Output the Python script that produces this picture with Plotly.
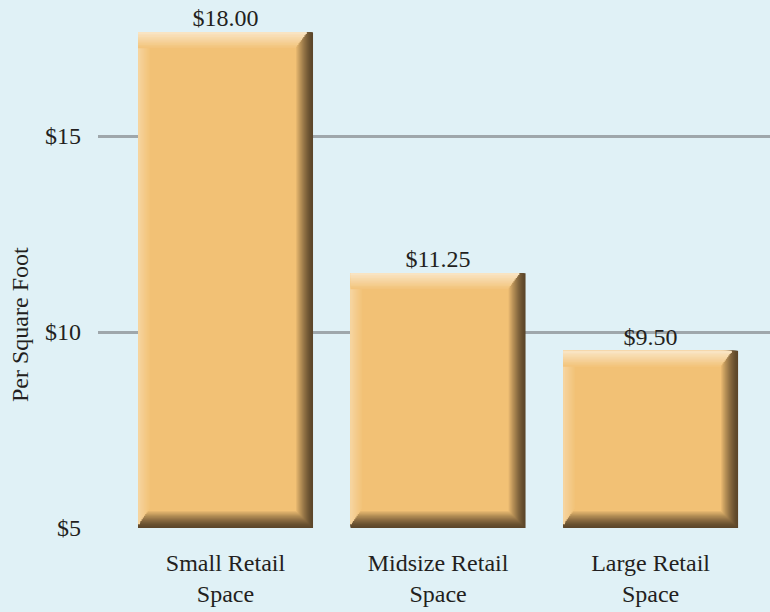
import plotly.graph_objects as go

categories = ["Small Retail<br>Space", "Midsize Retail<br>Space", "Large Retail<br>Space"]
heights = [17.65, 11.5, 9.52]
value_labels = ["$18.00", "$11.25", "$9.50"]
tick_vals = [5, 10, 15]
tick_text = ["$5", "$10", "$15"]

BG = "#e0f1f6"
MAIN = (242, 193, 117)
DARK = (92, 70, 42)
LIGHT = (249, 228, 194)
LEFT = (246, 212, 158)
TXT = "#231f20"
FONT = "Liberation Serif"

W = 0.8235
PX = 1 / 212.5
PY = 1 / 39.2
BASE = 5


def rgb(c):
    return "rgb(%d,%d,%d)" % tuple(int(round(v)) for v in c)


def lerp(a, b, f):
    return tuple(a[i] + (b[i] - a[i]) * f for i in range(3))


fig = go.Figure()


def add_bar(bases, lengths, width, offset, color):
    fig.add_trace(go.Bar(
        x=categories, y=lengths, base=bases, width=width, offset=offset,
        marker=dict(color=color, line=dict(width=0)), hoverinfo="skip",
        showlegend=False))


# dark shadow bevel (right and bottom) fading into main color
n = 16
for i in range(n + 1):
    f = i / n
    r = 17 * f * PX
    b = 17 * f * PY
    col = lerp(DARK, MAIN, f ** 1.4)
    add_bar([BASE + b] * 3, [h - BASE - b for h in heights], W - r, -W / 2, rgb(col))

# left light strip (soft gradient), starting above the bottom shadow
m = 10
for j in range(m):
    f = j / m
    wdt = 12 * (1 - f) * PX
    col = lerp(MAIN, LEFT, (j + 1) / m)
    b = 17 * PY * (1 - f) + 2 * PY
    add_bar([BASE + b] * 3, [h - BASE - b for h in heights], wdt, -W / 2, rgb(col))

# top light strip
k = 10
for j in range(k):
    f = j / k
    t = 16 * (1 - f) * PY
    col = lerp(MAIN, LIGHT, (j + 1) / k)
    add_bar([h - t for h in heights], [t] * 3, W - 12 * (1 - f) * PX - 5 * PX, -W / 2, rgb(col))

# value labels
fig.add_trace(go.Scatter(
    x=categories, y=heights, mode="text", text=value_labels,
    textposition="top center", textfont=dict(family=FONT, size=24, color=TXT),
    hoverinfo="skip", showlegend=False, cliponaxis=False))

fig.update_layout(
    width=770, height=612,
    margin=dict(l=98, r=0, t=0, b=84),
    paper_bgcolor=BG, plot_bgcolor=BG,
    barmode="overlay",
    font=dict(family=FONT, size=24, color=TXT),
    xaxis=dict(range=[-0.6, 2.562], showgrid=False, zeroline=False, showline=False,
               ticks="", ticklabelstandoff=18, tickfont=dict(size=24, color=TXT)),
    yaxis=dict(range=[5, 18.47], tickvals=tick_vals, ticktext=tick_text,
               showgrid=True, gridcolor="#9fa7ab", gridwidth=2.5, zeroline=False,
               showline=False, ticks="", ticklabelstandoff=16,
               tickfont=dict(size=24, color=TXT)),
    annotations=[dict(text="Per Square Foot", textangle=-90,
                      x=(20 - 98) / 672, y=(528 - 325) / 528,
                      xref="paper", yref="paper", showarrow=False,
                      xanchor="center", yanchor="middle",
                      font=dict(family=FONT, size=24, color=TXT))],
)

fig.write_html("out.html", config={"displayModeBar": False},
               post_script="document.body.style.margin='0';document.body.style.background='%s';" % BG)
